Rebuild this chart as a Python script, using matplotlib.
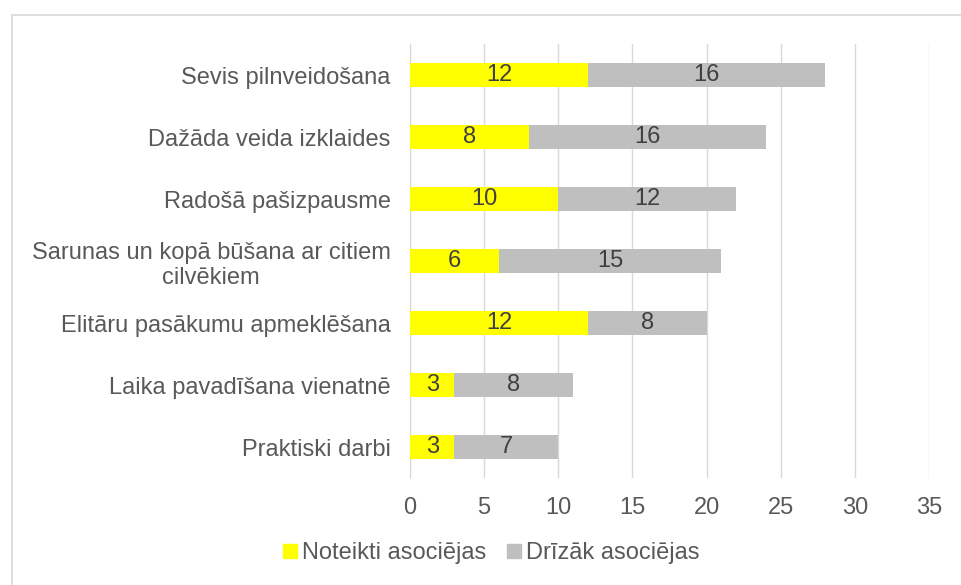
import matplotlib
matplotlib.use("Agg")
import matplotlib.pyplot as plt
from matplotlib.lines import Line2D
from matplotlib.patches import Rectangle

plt.rcParams['font.family'] = ['Liberation Sans', 'DejaVu Sans']

categories = [
    "Sevis pilnveidošana",
    "Dažāda veida izklaides",
    "Radošā pašizpausme",
    "Sarunas un kopā būšana ar citiem\ncilvēkiem",
    "Elitāru pasākumu apmeklēšana",
    "Laika pavadīšana vienatnē",
    "Praktiski darbi",
]
noteikti = [12, 8, 10, 6, 12, 3, 3]
drizak = [16, 16, 12, 15, 8, 8, 7]
series_names = ["Noteikti asociējas", "Drīzāk asociējas"]
xticks = [0, 5, 10, 15, 20, 25, 30, 35]

YELLOW = "#FFFF00"
GRAY = "#BFBFBF"
TXT = "#595959"
LBL = "#404040"
GRID = "#D9D9D9"
FS = 17

W, H = 962, 585
fig = plt.figure(figsize=(W / 100, H / 100), dpi=100)
fig.patch.set_facecolor("white")

# outer chart frame
fig.patches.append(Rectangle((12 / W, -0.05), 1.1, 1 - 15 / H + 0.05,
                             transform=fig.transFigure, fill=False,
                             edgecolor=GRID, linewidth=1.2))

ax = fig.add_axes([410 / W, (H - 478) / H, (929 - 410) / W, (478 - 44) / H])
y = list(range(len(categories)))
ax.barh(y, noteikti, height=0.4, color=YELLOW, zorder=3)
ax.barh(y, drizak, left=noteikti, height=0.4, color=GRAY, zorder=3)

for i in range(len(categories)):
    ax.text(noteikti[i] / 2, i, str(noteikti[i]), ha="center", va="center",
            fontsize=FS, color=LBL, zorder=4)
    ax.text(noteikti[i] + drizak[i] / 2, i, str(drizak[i]), ha="center",
            va="center", fontsize=FS, color=LBL, zorder=4)

ax.set_xlim(0, 35)
ax.set_ylim(len(categories) - 0.5, -0.5)
ax.set_xticks(xticks)
ax.set_xticklabels([str(t) for t in xticks])
ax.set_yticks(y)
ax.set_yticklabels(categories, fontsize=FS, color=TXT, linespacing=1.2)
for lab in ax.get_yticklabels():
    lab.set_horizontalalignment("right")
    lab.set_multialignment("center")
ax.tick_params(axis="x", length=0, labelsize=FS, labelcolor=TXT, pad=14)
ax.tick_params(axis="y", length=0, pad=14)
ax.grid(axis="x", color=GRID, linewidth=1, zorder=0)
for s in ["top", "right", "bottom"]:
    ax.spines[s].set_visible(False)
ax.spines["left"].set_color(GRID)
ax.spines["left"].set_zorder(1)

handles = [Line2D([], [], marker="s", linestyle="none", markersize=10,
                  markerfacecolor=c, markeredgecolor=c) for c in (YELLOW, GRAY)]
fig.legend(handles, series_names, loc="center", ncol=2,
           bbox_to_anchor=(489 / W, 1 - 553 / H), frameon=False,
           fontsize=FS, labelcolor=TXT, handletextpad=0.0,
           columnspacing=0.7, handlelength=1.0)

fig.savefig("out.png", dpi=100, facecolor="white")
